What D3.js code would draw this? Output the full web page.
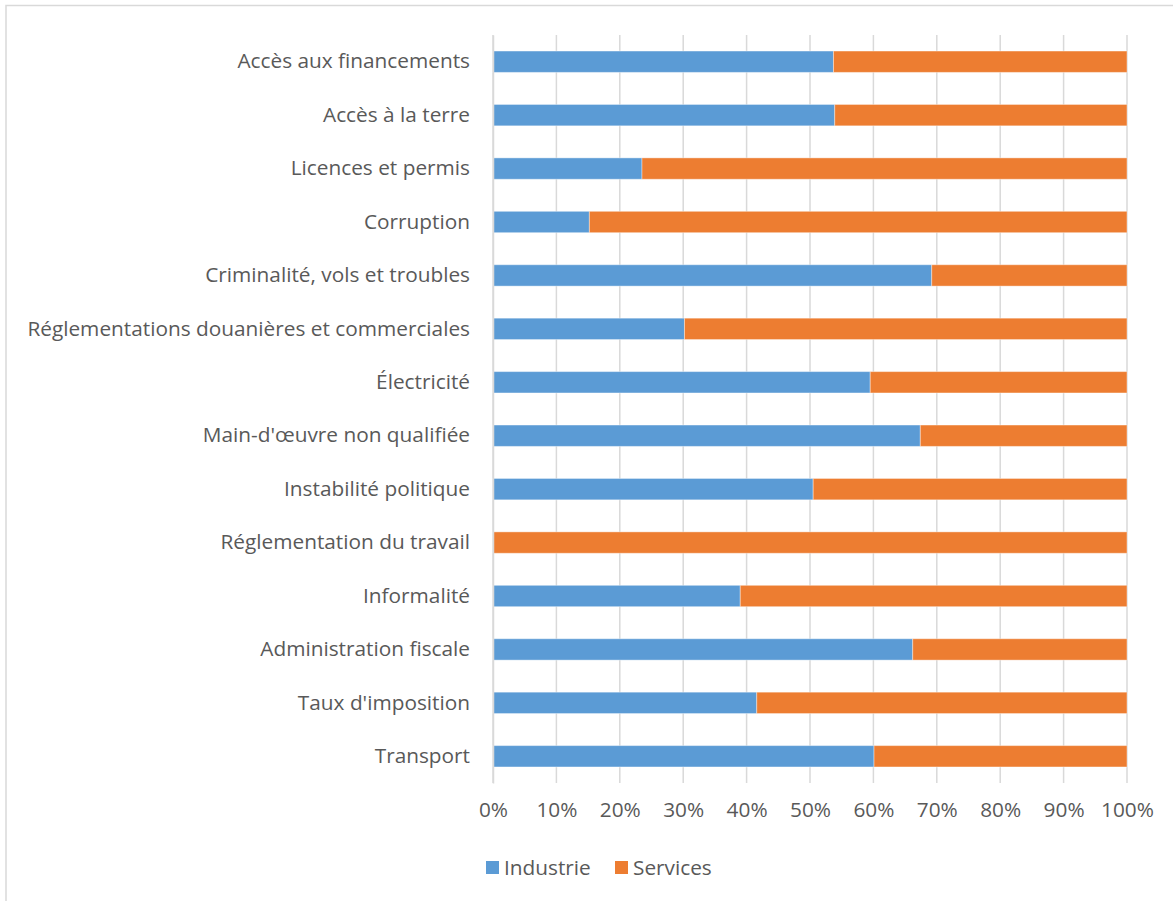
<!DOCTYPE html>
<html>
<head>
<meta charset="utf-8">
<script src="https://cdn.jsdelivr.net/npm/d3@7"></script>
<style>
  body { margin: 0; background: #fff; }
  svg text { font-family: "Open Sans", sans-serif; fill: #595959; }
</style>
</head>
<body>
<div id="graph"></div>
<script>
// Data set
let categories = [
  "Accès aux financements",
  "Accès à la terre",
  "Licences et permis",
  "Corruption",
  "Criminalité, vols et troubles",
  "Réglementations douanières et commerciales",
  "Électricité",
  "Main-d'œuvre non qualifiée",
  "Instabilité politique",
  "Réglementation du travail",
  "Informalité",
  "Administration fiscale",
  "Taux d'imposition",
  "Transport"
];
let industrie = [53.7, 53.9, 23.5, 15.2, 69.2, 30.2, 59.5, 67.4, 50.5, 0, 39.0, 66.2, 41.6, 60.1];
let services  = [46.3, 46.1, 76.5, 84.8, 30.8, 69.8, 40.5, 32.6, 49.5, 100, 61.0, 33.8, 58.4, 39.9];
let seriesNames = ["Industrie", "Services"];
let colors = ["#5B9BD5", "#ED7D31"];
let ticks = [0, 10, 20, 30, 40, 50, 60, 70, 80, 90, 100];

let width = 1173, height = 901;
let margin = {top: 35, left: 493, right: 46, bottom: 118};
let fontSize = 20.8;

let svg = d3.select("#graph").append("svg")
  .attr("width", width)
  .attr("height", height);

// frame of the chart area
svg.append("path")
  .attr("d", "M6,901 V5.5 H1173")
  .attr("fill", "none")
  .attr("stroke", "#d9d9d9")
  .attr("stroke-width", 1.5);

let x = d3.scaleLinear()
  .domain([0, 100])
  .range([margin.left, width - margin.right]);

let y = d3.scaleBand()
  .domain(categories)
  .range([margin.top, height - margin.bottom])
  .paddingInner(0.6)
  .paddingOuter(0.3);

// gridlines
svg.append("g")
  .selectAll("line")
  .data(ticks)
  .join("line")
  .attr("x1", d => x(d))
  .attr("x2", d => x(d))
  .attr("y1", margin.top)
  .attr("y2", height - margin.bottom)
  .attr("stroke", "#d9d9d9")
  .attr("stroke-width", 1.5);

// stacked bars
let rows = categories.map((c, i) => ({cat: c, Industrie: industrie[i], Services: services[i]}));
let stack = d3.stack().keys(seriesNames)(rows);

svg.append("g")
  .selectAll("g")
  .data(stack)
  .join("g")
  .attr("fill", (d, i) => colors[i])
  .selectAll("rect")
  .data(d => d)
  .join("rect")
  .attr("x", d => x(d[0]))
  .attr("y", d => y(d.data.cat))
  .attr("width", d => x(d[1]) - x(d[0]))
  .attr("height", y.bandwidth())
  .attr("stroke", "#fff")
  .attr("stroke-opacity", 0.4)
  .attr("stroke-width", 1);

// category axis
svg.append("g")
  .attr("transform", `translate(${margin.left},0)`)
  .call(d3.axisLeft(y).tickSize(0).tickPadding(23))
  .call(g => g.select(".domain").attr("stroke", "#d9d9d9").attr("stroke-width", 1.5))
  .call(g => g.selectAll("text").attr("font-size", fontSize).attr("font-family", "'Open Sans', sans-serif").attr("fill", "#595959"));

// value axis labels
svg.append("g")
  .attr("transform", `translate(0,${height - margin.bottom})`)
  .call(d3.axisBottom(x).tickValues(ticks).tickFormat(d => d + "%").tickSize(0).tickPadding(19))
  .call(g => g.select(".domain").remove())
  .call(g => g.selectAll("text").attr("font-size", fontSize).attr("font-family", "'Open Sans', sans-serif").attr("fill", "#595959"));

// legend
let legendX = [486, 615];
let legend = svg.append("g")
  .selectAll("g")
  .data(seriesNames)
  .join("g")
  .attr("transform", (d, i) => `translate(${legendX[i]},861)`);

legend.append("rect")
  .attr("width", 13)
  .attr("height", 13)
  .attr("fill", (d, i) => colors[i]);

legend.append("text")
  .attr("x", 18)
  .attr("y", 7)
  .attr("dy", "0.35em")
  .attr("font-size", fontSize)
  .text(d => d);
</script>
</body>
</html>
